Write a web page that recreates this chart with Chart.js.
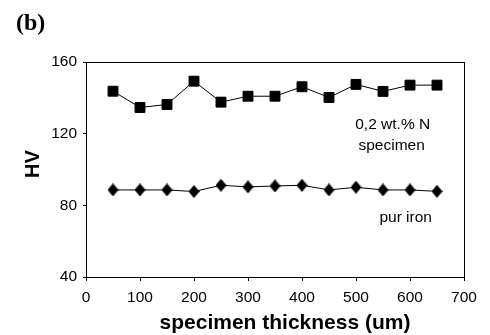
<!DOCTYPE html>
<html>
<head>
<meta charset="utf-8">
<script src="https://cdn.jsdelivr.net/npm/chart.js@4/dist/chart.umd.min.js"></script>
<style>
    body { margin: 0; background: #fff; }
    #wrap { width: 490px; height: 335px; }
</style>
</head>
<body>
<div id="wrap"><canvas id="hvChart" width="490" height="335"></canvas></div>
<script>
var thickness = [50, 100, 150, 200, 250, 300, 350, 400, 450, 500, 550, 600, 650];
var nitrided = [143.7, 134.6, 136.3, 149.3, 137.6, 140.9, 140.9, 146.2, 140.2, 147.5, 143.6, 147.1, 147.1];
var pureIron = [88.6, 88.6, 88.6, 87.7, 91.2, 90.3, 90.8, 91.2, 88.6, 90.1, 88.6, 88.6, 87.8];
var yTicks = [40, 80, 120, 160];
var xTicks = [0, 100, 200, 300, 400, 500, 600, 700];

var sansFont = '"Liberation Sans", Arial, sans-serif';

function toPoints(xs, ys) {
    var pts = [];
    for (var i = 0; i < xs.length; i++) {
        pts.push({ x: xs[i], y: ys[i] });
    }
    return pts;
}

// slightly tall diamond marker like the original
function makeDiamond(w, h) {
    var c = document.createElement('canvas');
    c.width = w;
    c.height = h;
    var g = c.getContext('2d');
    g.fillStyle = '#000';
    g.beginPath();
    g.moveTo(w / 2, 0);
    g.lineTo(w, h / 2);
    g.lineTo(w / 2, h);
    g.lineTo(0, h / 2);
    g.closePath();
    g.fill();
    return c;
}

// frame round the plot, panel letter, axis titles and series notes
var extras = {
    id: 'extras',
    afterDraw: function (chart) {
        var ctx = chart.ctx;
        var a = chart.chartArea;
        var xs = chart.scales.x;
        var ys = chart.scales.y;
        ctx.save();
        ctx.strokeStyle = '#000';
        ctx.lineWidth = 1;
        ctx.strokeRect(Math.round(a.left) + 0.5, Math.round(a.top) + 0.5,
            Math.round(a.right - a.left), Math.round(a.bottom - a.top));

        ctx.fillStyle = '#000';
        ctx.font = 'bold 24px "Liberation Serif", "Times New Roman", serif';
        ctx.textAlign = 'left';
        ctx.textBaseline = 'middle';
        ctx.fillText('(b)', 16, 24);

        ctx.font = 'bold 21px ' + sansFont;
        ctx.textAlign = 'center';
        ctx.fillText('specimen thickness (um)', 285, 323);

        ctx.font = 'bold 20px ' + sansFont;
        ctx.translate(33, 164);
        ctx.rotate(-Math.PI / 2);
        ctx.fillText('HV', 0, 0);
        ctx.setTransform(1, 0, 0, 1, 0, 0);

        ctx.font = '15.5px ' + sansFont;
        ctx.fillText('0,2 wt.% N', xs.getPixelForValue(568), ys.getPixelForValue(125));
        ctx.fillText('specimen', xs.getPixelForValue(566), ys.getPixelForValue(113));
        ctx.fillText('pur iron', xs.getPixelForValue(592), ys.getPixelForValue(73));
        ctx.restore();
    }
};

var ctx = document.getElementById('hvChart').getContext('2d');
var chart = new Chart(ctx, {
    type: 'line',
    data: {
        datasets: [{
            label: '0,2 wt.% N specimen',
            data: toPoints(thickness, nitrided),
            borderColor: '#000',
            backgroundColor: '#000',
            borderWidth: 1,
            pointStyle: 'rect',
            pointRadius: 7,
            pointHoverRadius: 7
        }, {
            label: 'pur iron',
            data: toPoints(thickness, pureIron),
            borderColor: '#000',
            backgroundColor: '#000',
            borderWidth: 1,
            pointStyle: makeDiamond(11, 13),
            pointRadius: 6,
            pointHoverRadius: 6
        }]
    },
    options: {
        responsive: false,
        animation: false,
        layout: { padding: { top: 62, right: 26, left: 0, bottom: 0 } },
        plugins: {
            legend: { display: false },
            tooltip: { enabled: false }
        },
        scales: {
            x: {
                type: 'linear',
                min: 0,
                max: 700,
                afterBuildTicks: function (s) {
                    s.ticks = xTicks.map(function (v) { return { value: v }; });
                },
                afterFit: function (s) { s.height = 58; },
                grid: { drawOnChartArea: false, color: '#000', tickLength: 4 },
                border: { color: '#000' },
                ticks: {
                    color: '#000',
                    padding: 7,
                    maxRotation: 0,
                    font: { family: sansFont, size: 15.5 }
                }
            },
            y: {
                min: 40,
                max: 160,
                afterBuildTicks: function (s) {
                    s.ticks = yTicks.map(function (v) { return { value: v }; });
                },
                afterFit: function (s) { s.width = 86; },
                grid: { drawOnChartArea: false, color: '#000', tickLength: 3 },
                border: { color: '#000' },
                ticks: {
                    color: '#000',
                    padding: 6,
                    font: { family: sansFont, size: 15.5 }
                }
            }
        }
    },
    plugins: [extras]
});
</script>
</body>
</html>
